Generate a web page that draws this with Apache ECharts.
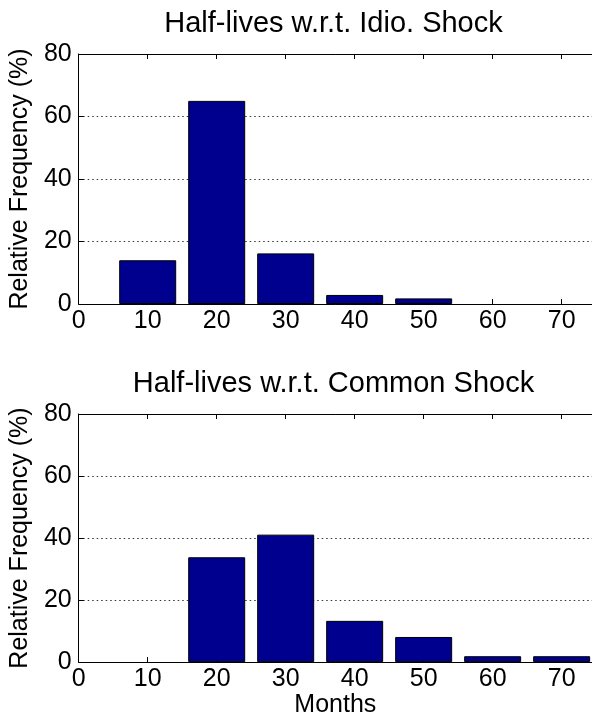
<!DOCTYPE html>
<html>
<head>
<meta charset="utf-8">
<script src="https://cdn.jsdelivr.net/npm/echarts@6/dist/echarts.min.js"></script>
<style>
html,body{margin:0;padding:0;background:#fff;}
#chart{width:592px;height:719px;}
</style>
</head>
<body>
<div id="chart"></div>
<script>
// ---- data ----
const idioBins = [10, 20, 30, 40, 50];
const idioFreq = [14.0, 65.0, 16.2, 2.9, 1.8];
const commonBins = [20, 30, 40, 50, 60, 70];
const commonFreq = [33.8, 41.1, 13.3, 8.1, 1.9, 1.9];
const titles = ['Half-lives w.r.t. Idio. Shock', 'Half-lives w.r.t. Common Shock'];
const yLabel = 'Relative Frequency (%)';
const xLabel = 'Months';

const FONT = '"Liberation Sans", Arial, Helvetica, sans-serif';
const chart = echarts.init(document.getElementById('chart'));

const grids = [
  {left: 75, top: 54, right: 0, height: 250},
  {left: 75, top: 414, right: 0, height: 250}
];

function bottomX(gi, withName) {
  return {
    type: 'value', gridIndex: gi, position: 'bottom',
    min: 0, max: 74.4, interval: 10,
    axisLine: {show: true, onZero: false, lineStyle: {color: '#000', width: 1}},
    axisTick: {show: true, inside: true, length: 5, lineStyle: {color: '#000'}},
    axisLabel: {color: '#000', fontSize: 25, fontFamily: FONT, margin: 5, showMaxLabel: false},
    splitLine: {show: false},
    name: withName ? xLabel : '',
    nameLocation: 'middle', nameGap: 30,
    nameTextStyle: {color: '#000', fontSize: 25, fontFamily: FONT}
  };
}
function topX(gi) {
  return {
    type: 'value', gridIndex: gi, position: 'top',
    min: 0, max: 74.4, interval: 10,
    axisLine: {show: true, onZero: false, lineStyle: {color: '#000', width: 1}},
    axisTick: {show: true, inside: true, length: 5, lineStyle: {color: '#000'}},
    axisLabel: {show: false},
    splitLine: {show: false}
  };
}
function leftY(gi) {
  return {
    type: 'value', gridIndex: gi, min: 0, max: 80, interval: 20,
    axisLine: {show: true, lineStyle: {color: '#000', width: 1}},
    axisTick: {show: true, inside: true, length: 5, lineStyle: {color: '#000'}},
    axisLabel: {color: '#000', fontSize: 25, fontFamily: FONT, margin: 7},
    splitLine: {show: true, lineStyle: {color: '#333', width: 1, type: [1.5, 3]}},
    name: yLabel, nameLocation: 'middle', nameGap: 43, nameRotate: 90,
    nameTextStyle: {color: '#000', fontSize: 25, fontFamily: FONT}
  };
}

function barSeries(gi, xs, ys) {
  return {
    type: 'bar', xAxisIndex: gi * 2, yAxisIndex: gi,
    data: xs.map((x, i) => [x, ys[i]]),
    barWidth: 57,
    itemStyle: {color: '#00008F', borderColor: '#000', borderWidth: 1},
    emphasis: {disabled: true},
    animation: false
  };
}

const option = {
  animation: false,
  backgroundColor: '#fff',
  grid: grids,
  xAxis: [bottomX(0, false), topX(0), bottomX(1, true), topX(1)],
  yAxis: [leftY(0), leftY(1)],
  series: [barSeries(0, idioBins, idioFreq), barSeries(1, commonBins, commonFreq)],
  graphic: titles.map((t, i) => ({
    type: 'text', x: 333.5, y: 24 + i * 360,
    style: {text: t, font: '29px ' + FONT, fill: '#000', textAlign: 'center', textVerticalAlign: 'middle'}
  }))
};
chart.setOption(option);
</script>
</body>
</html>
